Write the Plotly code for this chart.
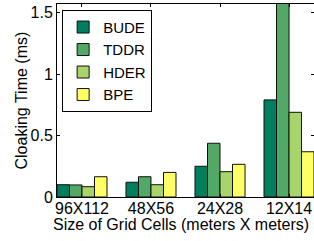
import plotly.graph_objects as go

categories = ["96X112", "48X56", "24X28", "12X14"]
series_names = ["BUDE", "TDDR", "HDER", "BPE"]
bude = [0.10, 0.12, 0.25, 0.79]
tddr = [0.098, 0.165, 0.437, 1.65]
hder = [0.084, 0.10, 0.206, 0.689]
bpe = [0.165, 0.20, 0.266, 0.368]
colors = ["#007F5F", "#52A865", "#A9D46A", "#FFFF66"]
x_title = "Size of Grid Cells (meters X meters)"
y_title = "Cloaking Time (ms)"

font_family = "Liberation Sans, Arial, sans-serif"

fig = go.Figure()
for name, vals, col in zip(series_names, [bude, tddr, hder, bpe], colors):
    fig.add_trace(go.Bar(
        x=categories, y=vals, name=name,
        marker=dict(color=col, line=dict(color="#111111", width=1)),
    ))

fig.update_layout(
    width=314, height=241,
    margin=dict(l=57, r=0, t=4, b=44, autoexpand=False),
    paper_bgcolor="white", plot_bgcolor="white",
    barmode="group", bargap=0.275, bargroupgap=0,
    font=dict(family=font_family, size=16, color="black"),
    showlegend=True,
    legend=dict(
        x=0.02, y=0.97, xanchor="left", yanchor="top",
        bgcolor="white", bordercolor="black", borderwidth=1,
        font=dict(size=15), tracegroupgap=0,
        itemwidth=30,
    ),
    xaxis=dict(
        type="category", range=[-0.362, 3.362], automargin=False,
        showline=True, linecolor="black", linewidth=1, mirror="ticks",
        ticks="inside", ticklen=3, tickcolor="black",
        showgrid=False, zeroline=False,
        tickfont=dict(size=16), ticklabelstandoff=-3,
    ),
    yaxis=dict(
        range=[0, 1.57], automargin=False,
        tickvals=[0, 0.5, 1, 1.5], ticktext=["0", "0.5", "1", "1.5"],
        showline=True, linecolor="black", linewidth=1, mirror="ticks",
        ticks="inside", ticklen=3, tickcolor="black",
        showgrid=False, zeroline=False,
        tickfont=dict(size=16),
    ),
    annotations=[
        dict(text=x_title, xref="paper", yref="paper", x=0.484, y=-0.14,
             xanchor="center", yanchor="middle", showarrow=False,
             font=dict(size=16)),
        dict(text=y_title, xref="paper", yref="paper", x=-0.14, y=0.5,
             xanchor="center", yanchor="middle", showarrow=False,
             textangle=-90, font=dict(size=16)),
    ],
)

fig.write_html(
    "out.html",
    config={"displayModeBar": False},
    post_script="document.body.style.margin='0';document.body.style.overflow='hidden';",
)
